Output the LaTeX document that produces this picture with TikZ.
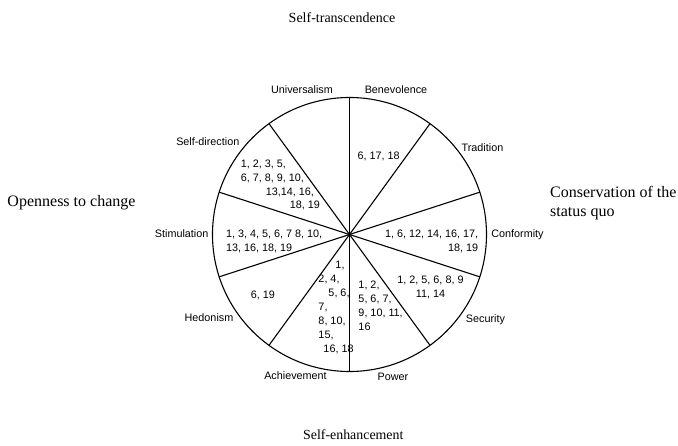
\documentclass[tikz,border=0pt]{standalone}
\usepackage{fontspec}
\setmainfont{Liberation Sans}
\newfontfamily\bookserif{Liberation Serif}

\begin{document}
\begin{tikzpicture}[
    x=1pt, y=1pt,
    wheelring/.style={draw, circle, line width=1.1pt, minimum size=274pt, inner sep=0pt, outer sep=0pt},
    spoke/.style={line width=1.1pt},
    value/.style={font=\fontsize{10.8}{13}\selectfont, inner sep=0pt},
    nums/.style={font=\fontsize{10.8}{13.9}\selectfont, inner sep=0pt, align=left},
    pole/.style={font=\bookserif\fontsize{14}{19}\selectfont, inner sep=0pt},
]
\useasboundingbox (-349.5,-210.5) rectangle (328.5,234.5);

% the wheel and its ten spokes
\node[wheelring] (wheel) at (0,0) {};
\foreach \a in {18,54,...,342}
  \draw[spoke] (wheel.center) -- (wheel.\a);

% value names round the wheel
\node[value] (univ) at (-47.5,144.5) {Universalism};
\node[value] (bene) at (46.5,144.5) {Benevolence};
\node[value] (trad) at (133,87.2) {Tradition};
\node[value] (selfdir) at (-141.7,92.8) {Self-direction};
\node[value] (stim) at (-167.8,0.5) {Stimulation};
\node[value] (hedo) at (-140.5,-83.5) {Hedonism};
\node[value] (achv) at (-54,-141.2) {Achievement};
\node[value] (powr) at (43.5,-142.2) {Power};
\node[value] (secu) at (136,-85.5) {Security};
\node[value] (conf) at (168,-0.5) {Conformity};

% item numbers inside the sectors
\node[nums, anchor=center] (n-bene) at (29.2,78.5) {6, 17, 18};
\node[nums, anchor=north west] (n-selfdir) at (-108.8,75) {1, 2, 3, 5,\\6, 7, 8, 9, 10,\\\hspace*{25pt}13,14, 16,\\\hspace*{49pt}18, 19};
\node[nums, anchor=north west] (n-stim) at (-123.5,4.3) {1, 3, 4, 5, 6, 7 8, 10,\\13, 16, 18, 19};
\node[nums, anchor=center] (n-hedo) at (-86.7,-60.5) {6, 19};
\node[nums, anchor=north west] (n-achv) at (-31.2,-26.6) {\hspace*{17pt}1,\\2, 4,\\\hspace*{10pt}5, 6,\\7,\\8, 10,\\15,\\\hspace*{5pt}16, 18};
\node[nums, anchor=north west] (n-powr) at (8.8,-46.6) {1, 2,\\5, 6, 7,\\9, 10, 11,\\16};
\node[nums, align=center, anchor=north] (n-secu) at (81,-41.6) {1, 2, 5, 6, 8, 9\\11, 14};
\node[nums, align=right, anchor=north east] (n-conf) at (128.8,4.3) {1, 6, 12, 14, 16, 17,\\18, 19};

% higher order dimensions
\node[pole] (transc) at (-7.5,216.5) {Self-transcendence};
\node[pole, font=\bookserif\fontsize{13.9}{19}\selectfont] (enhan) at (3.8,-200.5) {Self-enhancement};
\node[pole, font=\bookserif\fontsize{16}{19}\selectfont, anchor=west] (open) at (-342.2,31.5) {Openness to change};
\node[pole, font=\bookserif\fontsize{16}{19}\selectfont, align=left, anchor=north west] (conserv) at (200.5,48.9) {Conservation of the\\status quo};
\end{tikzpicture}
\end{document}
